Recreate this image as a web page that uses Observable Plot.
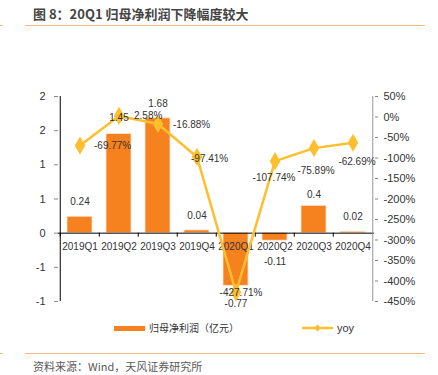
<!DOCTYPE html>
<html><head><meta charset="utf-8">
<script src="https://cdn.jsdelivr.net/npm/d3@7"></script>
<script src="https://cdn.jsdelivr.net/npm/@observablehq/plot@0.6"></script>
<style>
body{margin:0;background:#fff;}
#wrap{position:relative;width:438px;height:375px;overflow:hidden;background:#fff;font-family:"Liberation Sans","Noto Sans CJK SC",sans-serif;color:#333;}
#title{position:absolute;left:33px;top:5px;font-size:13px;font-weight:bold;color:#444;white-space:nowrap;font-family:"Noto Sans CJK SC",sans-serif;line-height:18px;}
.hr{position:absolute;left:25px;width:400px;height:1px;background:#F7B98A;}
.tick{position:absolute;left:0;width:3px;height:1px;background:#F7B98A;}
#chart{position:absolute;left:0;top:80px;}
#legend{position:absolute;top:320px;left:0;width:438px;height:16px;font-size:10px;font-family:"Noto Sans CJK SC",sans-serif;color:#333;}
#caption{position:absolute;left:33px;top:358px;font-size:11px;color:#595959;white-space:nowrap;font-family:"Noto Sans CJK SC",sans-serif;line-height:16px;}
</style></head><body>
<div id="wrap">
  <div id="title">图 8：20Q1 归母净利润下降幅度较大</div>
  <div class="tick" style="top:25px"></div>
  <div class="hr" style="top:25px"></div>
  <div id="chart"></div>
  <div id="legend"></div>
  <div class="tick" style="top:353px"></div>
  <div class="hr" style="top:353px"></div>
  <div id="caption">资料来源：Wind，天风证券研究所</div>
</div>
<script>
const quarters = ["2019Q1","2019Q2","2019Q3","2019Q4","2020Q1","2020Q2","2020Q3","2020Q4"];
const profit = [0.24, 1.45, 1.68, 0.04, -0.77, -0.11, 0.4, 0.02];
const yoy = [-69.77, 2.58, -16.88, -97.41, -427.71, -107.74, -75.89, -62.69];
const profitLabels = ["0.24","1.45","1.68","0.04","-0.77","-0.11","0.4","0.02"];
const yoyLabels = ["-69.77%","2.58%","-16.88%","-97.41%","-427.71%","-107.74%","-75.89%","-62.69%"];
const leftTicks = [-1, -0.5, 0, 0.5, 1, 1.5, 2];
const leftTickLabels = ["-1","-1","0","1","1","2","2"];
const yoyTicks = [50, 0, -50, -100, -150, -200, -250, -300, -350, -400, -450];
const yoyTickLabels = ["50%","0%","-50%","-100%","-150%","-200%","-250%","-300%","-350%","-400%","-450%"];
const seriesNames = ["归母净利润（亿元）", "yoy"];

const BAR = "#F5821F", LINE = "#FDBF2D";
const yMin = -1, yMax = 2, rMin = -450, rMax = 50;
const toY = v => yMin + (v - rMin) / (rMax - rMin) * (yMax - yMin);

const W = 438, H = 240, mL = 58, mR = 64, mT = 16, mB = 19;
const step = (W - mL - mR) / quarters.length;
const pxPerUnit = (H - mT - mB) / (yMax - yMin);

const data = quarters.map((q, i) => ({q, p: profit[i], pl: profitLabels[i], yy: toY(yoy[i]), yl: yoyLabels[i]}));
const yoyTickY = yoyTicks.map(toY);

// label placement styles (pixel offsets) for each point
const yoyLabelPlace = [
  {dx: 14, dy: 0, a: "start"},
  {dx: 15, dy: 0, a: "start"},
  {dx: 15, dy: 1, a: "start"},
  {dx: -6, dy: 2, a: "start"},
  {dx: 5, dy: 0, a: "middle"},
  {dx: -1, dy: 17, a: "middle"},
  {dx: 2, dy: 23, a: "middle"},
  {dx: 4, dy: 19, a: "middle"}
];
const barLabelDy = [-15, -16, -15, -15, 18, 21, -11, -15];

const marks = [
  Plot.barY(data, {x: "q", y: "p", fill: BAR, stroke: "#FBE3CF", strokeWidth: 0.8}),
  Plot.text(data, {x: "q", y: 0, text: "q", dy: 14, fill: "#333", fontSize: 10}),
  Plot.ruleY([0], {stroke: "#000", strokeWidth: 1}),
  Plot.ruleX(quarters, {x: d => d, y1: 0, y2: -4 / pxPerUnit, dx: -step / 2, stroke: "#000"}),
  Plot.ruleX([quarters[0]], {x: d => d, y1: yMin, y2: yMax, dx: -step / 2, stroke: "#000"}),
  Plot.ruleX([quarters[quarters.length - 1]], {x: d => d, y1: yMin, y2: yMax, dx: step / 2, stroke: "#999"}),
  Plot.axisY({anchor: "left", ticks: leftTicks, tickFormat: d => leftTickLabels[leftTicks.indexOf(d)], tickSize: 4, tickPadding: 9, stroke: "#888", fill: "#333", fontSize: 11}),
  Plot.axisY({anchor: "right", ticks: yoyTickY, tickFormat: d => yoyTickLabels[yoyTickY.indexOf(d)], tickSize: 3, tickPadding: 6, stroke: "#888", fill: "#333", fontSize: 11, textAnchor: "start"}),
  Plot.line(data, {x: "q", y: "yy", stroke: LINE, strokeWidth: 2.5}),
  Plot.dot(data, {x: "q", y: "yy", symbol: "diamond", r: 5.5, fill: LINE, stroke: null}),
  ...data.map((d, i) => Plot.text([d], {x: "q", y: "p", text: "pl", dy: barLabelDy[i], fill: "#333", fontSize: 10})),
  ...data.map((d, i) => Plot.text([d], {x: "q", y: "yy", text: "yl", dx: yoyLabelPlace[i].dx, dy: yoyLabelPlace[i].dy, textAnchor: yoyLabelPlace[i].a, fill: "#333", fontSize: 10}))
];

const chart = Plot.plot({
  width: W, height: H,
  marginLeft: mL, marginRight: mR, marginTop: mT, marginBottom: mB,
  x: {type: "band", domain: quarters, paddingInner: 0.37, paddingOuter: 0.185, axis: null},
  y: {domain: [yMin, yMax], axis: null},
  style: {fontFamily: "'Liberation Sans','Noto Sans CJK SC',sans-serif", fontSize: "10px", color: "#333", background: "transparent", overflow: "visible"},
  marks
});
document.getElementById("chart").appendChild(chart);

// legend
const lg = document.getElementById("legend");
lg.innerHTML =
  `<div style="position:absolute;left:114px;top:6px;width:31px;height:5px;background:${BAR}"></div>` +
  `<div style="position:absolute;left:149px;top:0px;line-height:16px;white-space:nowrap">${seriesNames[0]}</div>` +
  `<svg style="position:absolute;left:302px;top:2px" width="32" height="12"><line x1="0" x2="31" y1="6" y2="6" stroke="${LINE}" stroke-width="2.5"/><path d="M15.5,2.5L19,6L15.5,9.5L12,6Z" fill="${LINE}"/></svg>` +
  `<div style="position:absolute;left:337px;top:0px;line-height:16px;white-space:nowrap;font-family:'Liberation Sans',sans-serif;font-size:11px">${seriesNames[1]}</div>`;
</script>
</body></html>
